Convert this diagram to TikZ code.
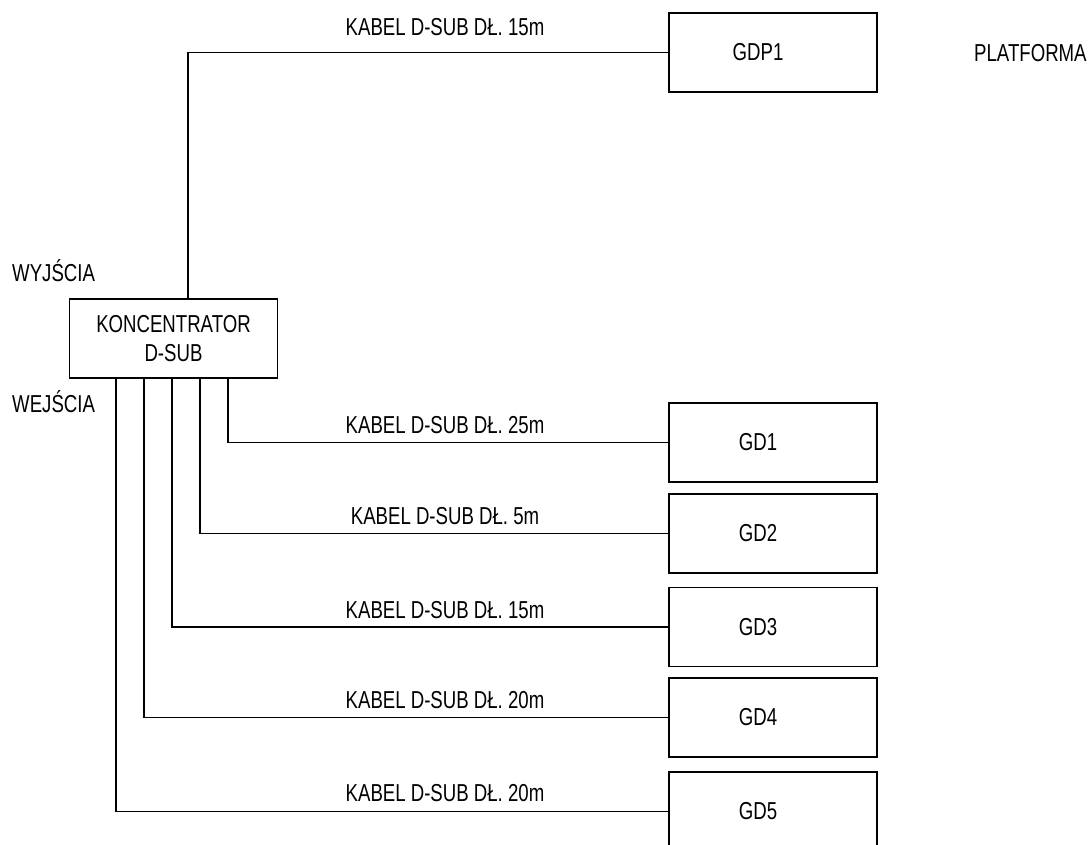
\documentclass[tikz,border=0pt]{standalone}
\usepackage{fontspec}
\setmainfont[FakeStretch=0.76]{Liberation Sans}
\begin{document}
\begin{tikzpicture}[x=1pt,y=-1pt,
  box/.style={draw, line width=1.6pt, minimum width=208pt, minimum height=79pt, inner sep=0pt},
  wire/.style={line width=1.6pt},
  txt/.style={font=\fontsize{24.5}{29}\selectfont, inner sep=0pt},
  lbl/.style={txt, anchor=base},
  inlbl/.style={txt, xshift=-15pt}
]
\useasboundingbox (0,0) rectangle (1088,845);
\clip (0,0) rectangle (1088,845);

\node[box, txt, align=center] (konc) at (173.5,338.5) {KONCENTRATOR\\D-SUB};
\node[box, label={[inlbl]center:GDP1}] (gdp1) at (773,52.5) {};
\node[box, label={[inlbl]center:GD1}] (gd1) at (773,442.5) {};
\node[box, label={[inlbl]center:GD2}] (gd2) at (773,533.5) {};
\node[box, label={[inlbl]center:GD3}] (gd3) at (773,627) {};
\node[box, label={[inlbl]center:GD4}] (gd4) at (773,717.5) {};
\node[box, label={[inlbl]center:GD5}] (gd5) at (773,811.5) {};

\node[txt, anchor=base west] (wyj) at (12,282) {WYJŚCIA};
\node[txt, anchor=base west] (wej) at (12,412) {WEJŚCIA};
\node[txt, anchor=base west] (plat) at (974,62) {PLATFORMA};

\draw[wire] ([xshift=119pt]konc.north west) |- (gdp1.west);
\draw[wire] ([xshift=159pt]konc.south west) |- (gd1.west);
\draw[wire] ([xshift=131pt]konc.south west) |- (gd2.west);
\draw[wire] ([xshift=103pt]konc.south west) |- (gd3.west);
\draw[wire] ([xshift=75pt]konc.south west) |- (gd4.west);
\draw[wire] ([xshift=47pt]konc.south west) |- (gd5.west);

\node[lbl] (c0) at (445,36) {KABEL D-SUB DŁ. 15m};
\node[lbl] (c1) at (445,433) {KABEL D-SUB DŁ. 25m};
\node[lbl] (c2) at (445,524) {KABEL D-SUB DŁ. 5m};
\node[lbl] (c3) at (445,618) {KABEL D-SUB DŁ. 15m};
\node[lbl] (c4) at (445,708) {KABEL D-SUB DŁ. 20m};
\node[lbl] (c5) at (445,801) {KABEL D-SUB DŁ. 20m};
\end{tikzpicture}
\end{document}
